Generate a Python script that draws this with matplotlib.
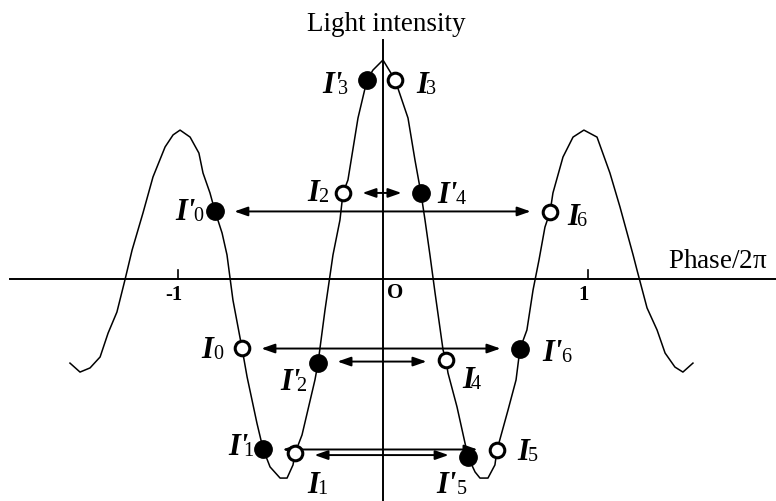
import numpy as npy
import matplotlib
matplotlib.use('Agg')
import matplotlib.pyplot as plt

# polices type Times (Liberation Serif)
plt.rcParams['font.family'] = 'Liberation Serif'
plt.rcParams['mathtext.fontset'] = 'custom'
plt.rcParams['mathtext.rm'] = 'Liberation Serif'

# courbe de l'intensite lumineuse en fonction de phase/2pi
phase = [-1.527, -1.478, -1.429, -1.380, -1.341, -1.298, -1.259, -1.224, -1.171, -1.122,
         -1.063, -1.024, -0.990, -0.941, -0.898, -0.878, -0.844, -0.820, -0.785, -0.761,
         -0.732, -0.688, -0.663, -0.615, -0.585, -0.551, -0.502, -0.468, -0.439, -0.429,
         -0.395, -0.332, -0.317, -0.283, -0.244, -0.210, -0.195, -0.171, -0.122, -0.078,
         -0.049, 0.0, 0.059, 0.122, 0.156, 0.185, 0.205, 0.229, 0.254, 0.293,
         0.307, 0.317, 0.361, 0.400, 0.415, 0.449, 0.473, 0.512, 0.546, 0.556,
         0.610, 0.649, 0.668, 0.702, 0.732, 0.761, 0.790, 0.815, 0.829, 0.878,
         0.927, 0.980, 1.044, 1.107, 1.156, 1.220, 1.239, 1.288, 1.337, 1.376,
         1.424, 1.463, 1.512]
intensite = [-0.384, -0.425, -0.406, -0.356, -0.247, -0.151, -0.005, 0.132, 0.301, 0.466,
             0.603, 0.658, 0.680, 0.648, 0.575, 0.484, 0.393, 0.311, 0.210, 0.110,
             -0.096, -0.315, -0.447, -0.658, -0.776, -0.858, -0.909, -0.909, -0.849, -0.795,
             -0.712, -0.461, -0.384, -0.142, 0.110, 0.269, 0.393, 0.452, 0.735, 0.909,
             0.954, 1.0, 0.909, 0.735, 0.543, 0.393, 0.269, 0.110, -0.064, -0.324,
             -0.370, -0.429, -0.584, -0.749, -0.813, -0.881, -0.909, -0.909, -0.849, -0.781,
             -0.598, -0.461, -0.320, -0.233, -0.050, 0.087, 0.237, 0.306, 0.393, 0.557,
             0.648, 0.680, 0.648, 0.484, 0.329, 0.110, 0.041, -0.132, -0.233, -0.338,
             -0.402, -0.425, -0.384]

# points I' (pleins) et I (vides), indice = numero du point
indices = ['0', '1', '2', '3', '4', '5', '6']
phase_pleins = [-0.820, -0.585, -0.317, -0.078, 0.185, 0.415, 0.668]
int_pleins = [0.311, -0.776, -0.384, 0.909, 0.393, -0.813, -0.320]
phase_vides = [-0.688, -0.429, -0.195, 0.059, 0.307, 0.556, 0.815]
int_vides = [-0.315, -0.795, 0.393, 0.909, -0.370, -0.781, 0.306]

# I'k relie a I(6-k) par une fleche double (sauf k=3)
paires = [0, 1, 2, 4, 5, 6]

graduations = [-1, 1]
etiquettes = ['-1', '1']

# position des noms par rapport au point, en pixels :
# (bord gauche du I, bord gauche de l'indice, ligne de base vers le bas)
decal_pleins = [(-40, -22, 9), (-35, -20, 6), (-38, -22, 27), (-45, -29, 13),
                (16, 35, 10), (-32, -11, 36), (22, 41, 12)]
decal_vides = [(-41, -29, 10), (12, 22, 40), (-36, -25, 8), (21, 31, 13),
               (16, 25, 28), (20, 31, 10), (17, 26, 13)]

fig = plt.figure(figsize=(7.76, 5.01), dpi=100)
ax = fig.add_axes([0, 0, 1, 1])
ax.axis('off')
ax.set_xlim(-1.8683, 1.9171)
ax.set_ylim(-1.0137, 1.2740)

# axes dessines a la main
ax.plot([-1.82, 1.92], [0, 0], color='black', lw=1.4, clip_on=False)
ax.plot([0, 0], [-1.02, 1.09], color='black', lw=1.4, clip_on=False)
for g, e in zip(graduations, etiquettes):
    ax.plot([g, g], [0, 0.041], color='black', lw=1.2)
    ax.text(g - 0.02, -0.096, e, ha='center', va='baseline', fontsize=15, fontweight='bold')
ax.text(0.059, -0.087, 'O', ha='center', va='baseline', fontsize=15, fontweight='bold')

ax.text(0.018, 1.132, 'Light intensity', ha='center', va='baseline', fontsize=19.5)
ax.text(1.390, 0.050, 'Phase/2$\\mathrm{\\pi}$', ha='left', va='baseline', fontsize=19.5)

# la courbe
ax.plot(phase, intensite, color='black', lw=1.1)

# fleches doubles entre les paires
for k in paires:
    x1, y1 = phase_pleins[k], int_pleins[k]
    x2, y2 = phase_vides[6 - k], int_vides[6 - k]
    y = (y1 + y2) / 2
    ax.annotate('', xy=(x2, y), xytext=(x1, y),
                arrowprops=dict(arrowstyle='<|-|>,head_length=0.8,head_width=0.28',
                                color='black', lw=1.4, shrinkA=14, shrinkB=14,
                                mutation_scale=10))

ax.plot(phase_pleins, int_pleins, 'o', color='black', markersize=12.5, zorder=5)
ax.plot(phase_vides, int_vides, 'o', markerfacecolor='white', markeredgecolor='black',
        markeredgewidth=2.2, markersize=10.5, zorder=5)


def nom_point(lettre, indice, x, y, d):
    # I en gras italique, indice en romain a cote
    ax.annotate(lettre, (x, y), xytext=(d[0], -d[2]), textcoords='offset pixels',
                ha='left', va='baseline', fontsize=22, fontweight='bold', fontstyle='italic')
    ax.annotate(indice, (x, y), xytext=(d[1], -d[2] - 1), textcoords='offset pixels',
                ha='left', va='baseline', fontsize=14.5)


for i, x, y, d in zip(indices, phase_pleins, int_pleins, decal_pleins):
    nom_point("I'", i, x, y, d)
for i, x, y, d in zip(indices, phase_vides, int_vides, decal_vides):
    nom_point("I", i, x, y, d)

fig.savefig('out.png', dpi=100)
